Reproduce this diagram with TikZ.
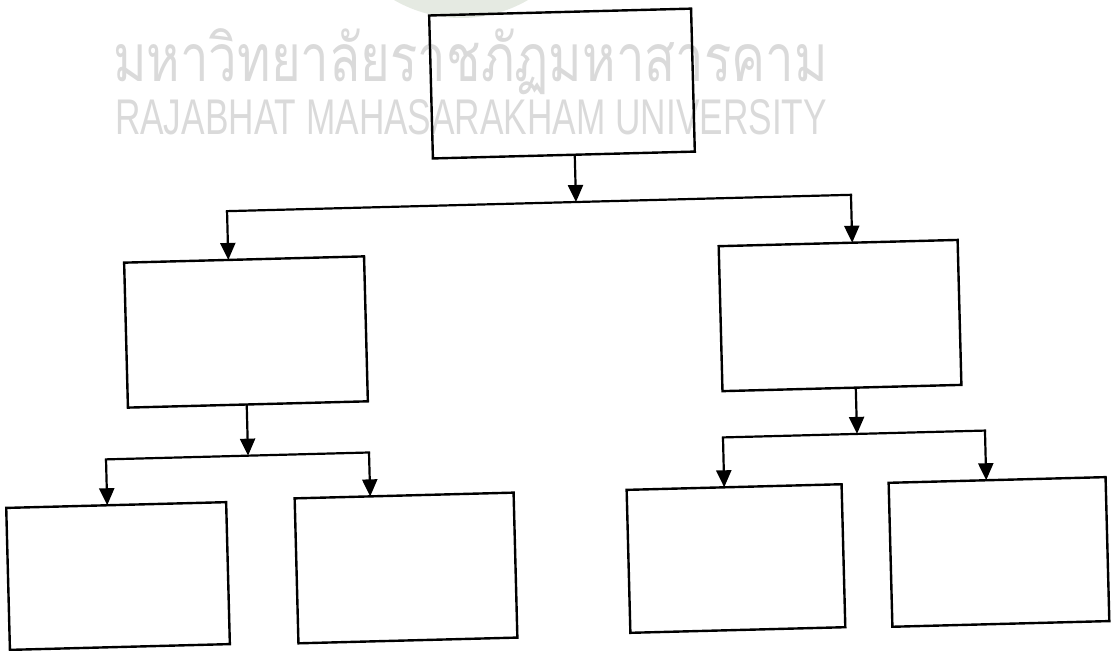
\documentclass[tikz,border=0pt]{standalone}
\usepackage{fontspec}
\usetikzlibrary{arrows.meta,calc}
\newfontfamily\thaifont[Script=Thai]{Loma}
\newfontfamily\latinwm{Liberation Sans}
\definecolor{logo}{RGB}{229,234,226}
\definecolor{wmgray}{RGB}{218,218,218}
\newlength\thaibody
\newcommand\thaiwm[3]{{\thaifont
  \setlength\thaibody{\fontcharht\font`ม}%
  \ifdim\thaibody<1pt\setlength\thaibody{0.5em}\fi
  \resizebox{#1}{#2}{\smash{#3}\rule{0pt}{\thaibody}}}}
\begin{document}
\begin{tikzpicture}[x=1pt,y=1pt,
  box/.style={draw=black, line width=2.4pt, inner sep=0pt, outer sep=0pt, rectangle, transform shape},
  topbox/.style={box, minimum width=262pt, minimum height=143pt},
  midbox/.style={box, minimum width=240pt, minimum height=145pt},
  lowbox/.style={box, minimum width=218pt, minimum height=144pt},
  conn/.style={draw=black, line width=2.2pt, line cap=rect},
  arr/.style={draw=black, line width=2.2pt, -{Triangle[length=17pt,width=15pt]}},
  wm/.style={inner sep=0pt, outer sep=0pt, text=wmgray}]
\useasboundingbox (0,0) rectangle (1118,650);
\clip (0,0) rectangle (1118,650);
% faint logo remnant at the top
\fill[logo] (461,765.7) circle (133.7);
% watermark
\node[wm, anchor=base west] (wmthai) at (113,568)
  {\thaiwm{715pt}{37pt}{มหาวิทยาลัยราชภัฏมหาสารคาม}};
\node[wm, anchor=south west] (wmlatin) at (115,515)
  {\resizebox{712pt}{35pt}{\latinwm RAJABHAT MAHASARAKHAM UNIVERSITY}};
% diagram (the scan is turned by about 1.5 degrees)
\begin{scope}[shift={(559,325)}, rotate=1.5]
  \node[topbox] (T)  at (9.3,241.3) {};
  \node[midbox] (ML) at (-313.1,1.2) {};
  \node[midbox, minimum width=239pt] (MR) at (281.2,2.1) {};
  \node[lowbox, minimum width=220pt, minimum height=142pt] (LL) at (-447.4,-239.4) {};
  \node[lowbox, minimum width=219pt, minimum height=145pt] (LR) at (-159.3,-238.9) {};
  \node[lowbox, minimum width=215pt, minimum height=143pt] (RL) at (170.8,-238.1) {};
  \node[lowbox, minimum width=217pt] (RR) at (433.9,-238.4) {};
  % junction coordinates
  \coordinate (j1)  at (20.2,122.5);
  \coordinate (h1l) at (-328.9,122.5);
  \coordinate (h1r) at (295.3,122.5);
  \coordinate (j2)  at (-314.3,-122.5);
  \coordinate (h2l) at (-456.4,-122.5);
  \coordinate (h2r) at (-193.3,-122.5);
  \coordinate (j3)  at (295.1,-116.7);
  \coordinate (h3l) at (161.0,-116.7);
  \coordinate (h3r) at (423.1,-116.7);
  % level 1
  \draw[arr] ($(T.south west)!0.5416!(T.south east)$) -- (j1);
  \draw[conn] (h1l) -- (h1r);
  \draw[arr] (h1l) -- ($(ML.north west)!0.434!(ML.north east)$);
  \draw[arr] (h1r) -- ($(MR.north west)!0.559!(MR.north east)$);
  % level 2 left
  \draw[arr] ($(ML.south west)!0.495!(ML.south east)$) -- (j2);
  \draw[conn] (h2l) -- (h2r);
  \draw[arr] (h2l) -- ($(LL.north west)!0.459!(LL.north east)$);
  \draw[arr] (h2r) -- ($(LR.north west)!0.345!(LR.north east)$);
  % level 2 right
  \draw[arr] ($(MR.south west)!0.558!(MR.south east)$) -- (j3);
  \draw[conn] (h3l) -- (h3r);
  \draw[arr] (h3l) -- ($(RL.north west)!0.454!(RL.north east)$);
  \draw[arr] (h3r) -- ($(RR.north west)!0.450!(RR.north east)$);
\end{scope}
\end{tikzpicture}
\end{document}
